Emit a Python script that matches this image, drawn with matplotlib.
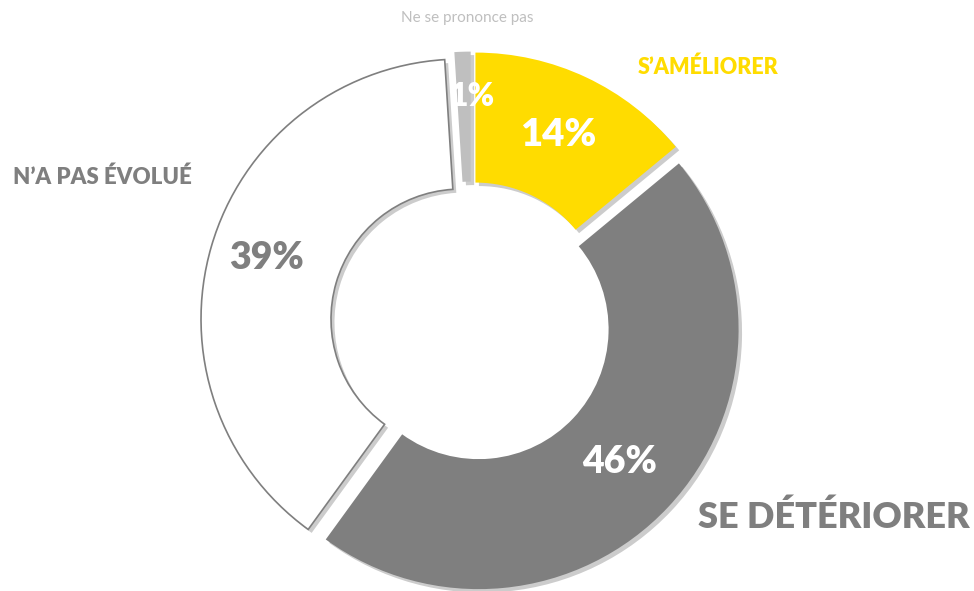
import matplotlib
matplotlib.use("Agg")
import matplotlib.pyplot as plt
import matplotlib.patheffects as pe

# data
categories = ["S’AMÉLIORER", "SE DÉTÉRIORER", "N’A PAS ÉVOLUÉ", "Ne se prononce pas"]
values = [14, 46, 39, 1]

colors = ["#FFDC00", "#7F7F7F", "#FFFFFF", "#BFBFBF"]
explode = [0.04, 0.04, 0.04, 0.04]

W, H = 974, 591
cx, cy, R = 471, 322, 260  # donut centre and radius in pixels (y from top)

plt.rcParams['font.family'] = ['Lato', 'DejaVu Sans']
fig = plt.figure(figsize=(W / 100, H / 100), dpi=100)
ax = fig.add_axes([0, 0, 1, 1])

wedges, _ = ax.pie(values, colors=colors, startangle=90, counterclock=False,
                   explode=explode, radius=1,
                   wedgeprops=dict(width=0.5, linewidth=0))
wedges[2].set_edgecolor("#7F7F7F")
wedges[2].set_linewidth(1.2)
for w in wedges:
    w.set_path_effects([pe.SimplePatchShadow(offset=(2.5, -2.5), shadow_rgbFace="black", alpha=0.2),
                        pe.Normal()])

ax.set_xlim(-cx / R, (W - cx) / R)
ax.set_ylim(-(H - cy) / R, cy / R)
ax.set_aspect("equal")
ax.axis("off")


def put(x, y, s, **kw):
    fig.text(x / W, 1 - y / H, s, **kw)


# percentages inside the ring
pct_pos = [(558, 135), (620, 462), (266, 258), (472, 97)]
pct_col = ["white", "white", "#7F7F7F", "white"]
pct_size = [27.5, 27, 27, 23]
for v, (x, y), c, s in zip(values, pct_pos, pct_col, pct_size):
    put(x, y, f"{v}%", color=c, fontsize=s, fontweight="heavy", ha="center", va="center")

# category labels
put(638, 67, categories[0], color="#FFDC00", fontsize=15.5, fontweight="heavy", va="center")
put(698, 517, categories[1], color="#7F7F7F", fontsize=26, fontweight="heavy", va="center")
put(13, 177, categories[2], color="#7F7F7F", fontsize=16, fontweight="heavy", va="center")
put(467, 18, categories[3], color="#BFBFBF", fontsize=11, ha="center", va="center")

fig.savefig("out.png", dpi=100)
